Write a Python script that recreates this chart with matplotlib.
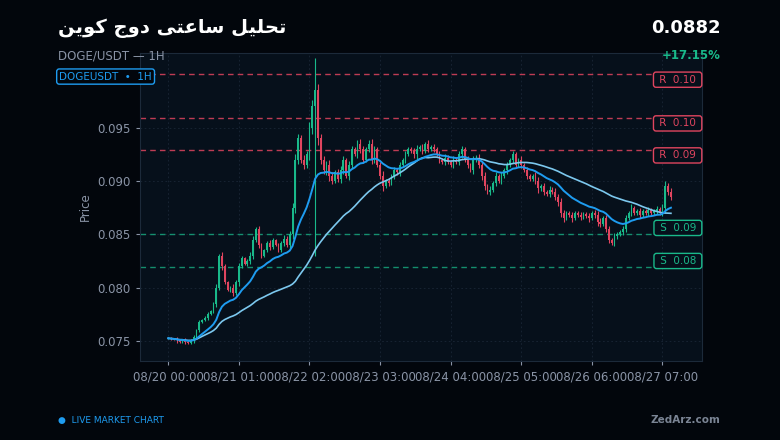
import numpy as np
import pandas as pd
import matplotlib
matplotlib.use("Agg")
import matplotlib.pyplot as plt
import matplotlib.transforms as mtransforms
from datetime import datetime, timedelta

closes = [
    .07525, .07520, .07515, .07505, .07495, .07510, .07490, .07480, .07505, .07540,
    .07600, .07680, .07700, .07720, .07750, .07780, .07850, .08000, .08300, .08200,
    .08050, .07980, .08000, .07950, .08050, .08200, .08280, .08220, .08250, .08300,
    .08450, .08550, .08400, .08300, .08350, .08420, .08380, .08450, .08400, .08350,
    .08420, .08460, .08400, .08500, .08750, .09200, .09400, .09200, .09150, .09250,
    .09500, .09700, .09850, .09400, .09200, .09100, .09150, .09050, .09000, .09080,
    .09020, .09100, .09200, .09050, .09150, .09300, .09250, .09350, .09300, .09200,
    .09300, .09350, .09200, .09300, .09150, .09050, .08950, .09000, .08980, .09050,
    .09100, .09080, .09150, .09200, .09250, .09300, .09280, .09250, .09300, .09320,
    .09280, .09350, .09300, .09320, .09300, .09250, .09200, .09180, .09220, .09180,
    .09150, .09200, .09180, .09250, .09300, .09200, .09150, .09100, .09200, .09220,
    .09150, .09050, .08950, .08900, .08920, .08980, .09050, .09000, .09050, .09100,
    .09150, .09200, .09250, .09150, .09200, .09150, .09100, .09050, .09020, .09050,
    .09000, .08930, .08950, .08900, .08880, .08920, .08900, .08850, .08800, .08700,
    .08650, .08700, .08680, .08650, .08700, .08680, .08660, .08690, .08670, .08650,
    .08700, .08680, .08620, .08600, .08650, .08550, .08450, .08420, .08480, .08500,
    .08520, .08550, .08650, .08700, .08750, .08700, .08720, .08680, .08720, .08700,
    .08730, .08700, .08720, .08740, .08700, .08750, .08950, .08900, .08850,
]
# wick length per candle, in 0.0001 units
wicks = [
    1, 1, 1, 2, 1, 1, 2, 1, 1, 2, 1, 2, 1, 1, 2, 1, 2, 3, 2, 3,
    2, 1, 2, 3, 2, 3, 2, 1, 2, 3, 3, 2, 3, 2, 1, 2, 3, 2, 1, 2,
    2, 3, 2, 3, 4, 5, 4, 3, 4, 3, 5, 6, 8, 6, 4, 3, 4, 5, 3, 2,
    3, 4, 3, 2, 4, 3, 2, 3, 4, 3, 2, 3, 4, 3, 2, 3, 4, 2, 3, 2,
    3, 2, 3, 2, 3, 2, 2, 3, 4, 2, 3, 2, 3, 2, 3, 2, 3, 2, 3, 2,
    2, 3, 2, 3, 3, 2, 3, 2, 3, 2, 3, 4, 3, 2, 3, 2, 3, 2, 3, 2,
    3, 2, 3, 2, 2, 3, 2, 3, 2, 2, 3, 4, 2, 3, 2, 3, 2, 3, 3, 4,
    3, 2, 2, 3, 2, 2, 3, 2, 2, 3, 2, 3, 4, 3, 2, 3, 3, 2, 3, 2,
    2, 3, 3, 2, 3, 2, 2, 3, 2, 2, 3, 2, 2, 3, 2, 3, 5, 3, 3,
]
spike_idx = 52
spike_high = 0.1015
spike_low = 0.0830

start = datetime(2025, 8, 20, 0, 0)
resistance = [0.1000, 0.0959, 0.0929]
support = [0.0850, 0.0819]
last_price = "0.0882"
change = "+17.15%"

UP = "#19b98a"
DOWN = "#e0455f"
BG = "#02060c"
AX_BG = "#06101b"
MUTED = "#8a94a6"

c = np.array(closes)
o = np.concatenate([[c[0]], c[:-1]])
w = np.array(wicks) * 1e-4
hi = np.maximum(o, c) + w
lo = np.minimum(o, c) - w
hi[spike_idx] = spike_high
lo[spike_idx] = spike_low
x = np.arange(len(c))
s = pd.Series(c)
ma_fast = s.ewm(span=18).mean()
ma_slow = s.rolling(46, min_periods=1).mean()

fig = plt.figure(figsize=(7.8, 4.4), dpi=100, facecolor=BG)
ax = fig.add_axes([0.1795, 0.1795, 0.7205, 0.70])
ax.set_facecolor(AX_BG)

for i in x:
    col = UP if c[i] >= o[i] else DOWN
    ax.vlines(i, lo[i], hi[i], color=col, lw=0.8, zorder=3)
    body = max(abs(c[i] - o[i]), 0.00004)
    ax.bar(i, body, bottom=min(o[i], c[i]), width=0.6, color=col, zorder=3, linewidth=0)

ax.plot(x, ma_slow, color="#7cc8ee", lw=1.2, zorder=4)
ax.plot(x, ma_fast, color="#1e9cf0", lw=1.4, zorder=5)

trans = mtransforms.blended_transform_factory(ax.transAxes, ax.transData)
for lvl in resistance:
    ax.axhline(lvl, color=DOWN, ls=(0, (4, 3)), lw=1, alpha=0.85, zorder=2)
    ax.text(0.995, lvl - 0.0005, f" R  {lvl:.2f} ", transform=trans,
            ha="right", va="center", color=DOWN, fontsize=7.5, zorder=6,
            bbox=dict(boxstyle="round,pad=0.25", fc=AX_BG, ec=DOWN, lw=1))
for lvl in support:
    ax.axhline(lvl, color=UP, ls=(0, (4, 3)), lw=1, alpha=0.75, zorder=2)
    ax.text(0.995, lvl + 0.0006, f" S  {lvl:.2f} ", transform=trans,
            ha="right", va="center", color=UP, fontsize=7.5, zorder=6,
            bbox=dict(boxstyle="round,pad=0.25", fc=AX_BG, ec=UP, lw=1))

ax.set_xlim(-10, 189)
ax.set_ylim(0.07312, 0.1020)
ticks = np.arange(0, 176, 25)
ax.set_xticks(ticks)
ax.set_xticklabels([(start + timedelta(hours=int(t))).strftime("%m/%d %H:%M") for t in ticks])
ax.set_yticks([0.075, 0.080, 0.085, 0.090, 0.095])
ax.yaxis.set_major_formatter(matplotlib.ticker.FormatStrFormatter("%.3f"))
ax.tick_params(colors=MUTED, labelsize=8.5, length=3)
ax.set_ylabel("Price", color=MUTED, fontsize=8.5)
ax.grid(True, color="#1a2636", ls=(0, (2, 3)), lw=0.6)
for sp in ax.spines.values():
    sp.set_color("#1c2a3a")

# title in visual order (presentation forms)
title = ("\uFEE6\uFEF3\uFEEE\uFB90 \uFE9D\uFEED\uFEA9 "
         "\uFEF0\uFE98\uFECB\uFE8E\uFEB3 \uFEDE\uFEF4\uFEE0\uFEA4\uFE97")
fig.text(0.074, 0.925, title, color="white", fontsize=14, fontweight="bold",
         family=["DejaVu Sans"])
fig.text(0.074, 0.865, "DOGE/USDT — 1H", color=MUTED, fontsize=8.5)
fig.text(0.076, 0.826, "DOGEUSDT  •  1H", color="#1e9cf0", fontsize=7.5, va="center",
         bbox=dict(boxstyle="round,pad=0.25", fc=BG, ec="#1e9cf0", lw=1))
fig.text(0.924, 0.925, last_price, color="white", fontsize=13, fontweight="bold", ha="right")
fig.text(0.924, 0.867, change, color=UP, fontsize=8.5, fontweight="bold", ha="right")
fig.text(0.074, 0.038, "●  LIVE MARKET CHART", color="#1e9cf0", fontsize=6.5)
fig.text(0.924, 0.038, "ZedArz.com", color="#7a8494", fontsize=7.5, fontweight="bold", ha="right")

fig.savefig("out.png", facecolor=BG)
